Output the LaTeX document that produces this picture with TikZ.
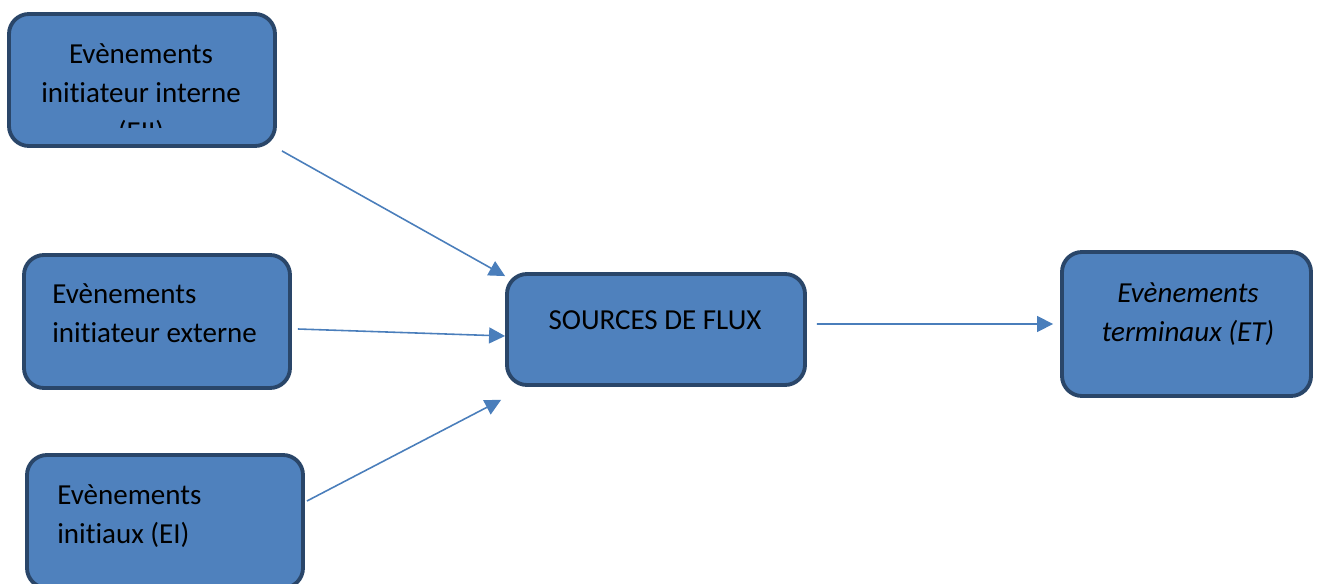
\documentclass[tikz,border=0pt]{standalone}
\usepackage{fontspec}
\setmainfont[Ligatures=NoCommon]{Carlito}
\usepackage{tikz}
\usetikzlibrary{arrows.meta, positioning}
\definecolor{boxblue}{HTML}{4F81BD}
\definecolor{boxedge}{HTML}{2A4669}
\definecolor{flowblue}{HTML}{4A7EBB}

\begin{document}
\begin{tikzpicture}[
    event/.style={draw=boxedge, fill=boxblue, line width=2.2pt, rounded corners=0.4cm, inner sep=0pt},
    txt/.style={inner sep=0pt, font=\fontsize{16.5}{22.2}\selectfont},
    arr/.style={-{Triangle[length=0.32cm, width=0.32cm]}, flowblue, line width=0.9pt},
]
\useasboundingbox (0,0) rectangle (26.38,-11.66);

% Left column: initiating events
\node[event, minimum width=5.32cm, minimum height=2.64cm] (eii) at (2.84,-1.60) {};
\begin{scope}
    \clip (0.2,-0.3) rectangle (5.4,-2.54);
    \node[txt, align=center, anchor=north] (eiitxt) at (2.82,-0.86) {Evènements\\initiateur interne\\(EII)};
\end{scope}

\node[event, minimum width=5.32cm, minimum height=2.66cm] (eie) at (3.14,-6.43) {};
\node[txt, align=left, anchor=north west] (eietxt) at (1.04,-5.66) {Evènements\\initiateur externe};

\node[event, minimum width=5.52cm, minimum height=2.66cm] (ei) at (3.30,-10.43) {};
\node[txt, align=left, anchor=north west] (eitxt) at (1.14,-9.68) {Evènements\\initiaux (EI)};

% Middle: sources
\node[event, minimum width=5.96cm, minimum height=2.22cm] (src) at (13.12,-6.59) {};
\node[txt, anchor=north] (srctxt) at (13.10,-6.20) {SOURCES DE FLUX};

% Right: terminal events
\node[event, minimum width=4.98cm, minimum height=2.88cm] (et) at (23.73,-6.48) {};
\node[txt, align=center, anchor=north, font=\fontsize{16.5}{22.2}\selectfont\itshape] (ettxt) at (23.76,-5.64) {Evènements\\terminaux (ET)};

% Flows
\draw[arr] ([xshift=0.1cm, yshift=-0.06cm]eii.south east) -- ([yshift=-0.08cm]src.north west);
\draw[arr] ([xshift=0.12cm, yshift=-0.15cm]eie.east) -- ([yshift=-0.13cm]src.west);
\draw[arr] ([xshift=0.04cm, yshift=0.41cm]ei.east) -- ([xshift=-0.08cm, yshift=-0.26cm]src.south west);
\draw[arr] ([xshift=0.2cm, yshift=0.11cm]src.east) -- ([xshift=-0.14cm]et.west);

\end{tikzpicture}
\end{document}
